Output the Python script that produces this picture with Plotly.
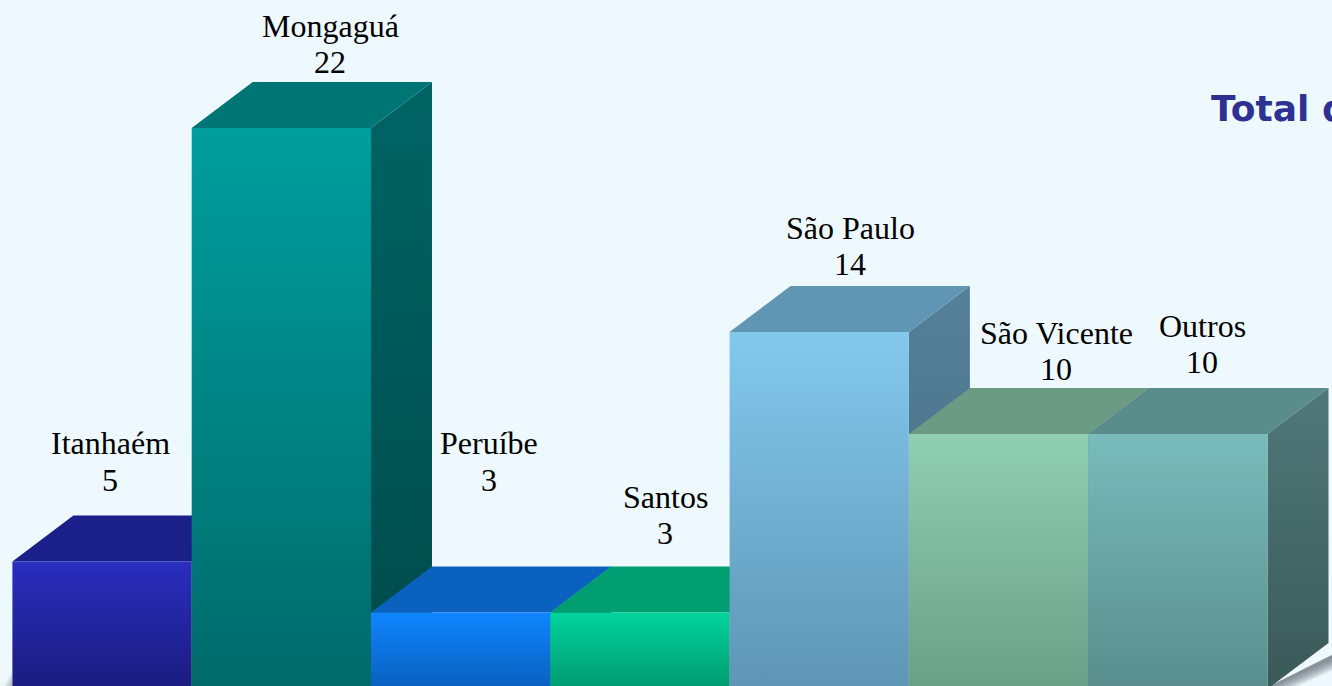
import plotly.graph_objects as go

# ---- data ----
cities = ["Itanhaém", "Mongaguá", "Peruíbe", "Santos", "São Paulo", "São Vicente", "Outros"]
values = [5, 22, 3, 3, 14, 10, 10]

# ---- colours: (top of gradient, bottom of gradient) ----
front_top = ["#2B2DBE", "#009E9E", "#0F85FF", "#00D49C", "#83C9EC", "#90CFB1", "#79BCBB"]
front_bot = ["#1A1C80", "#006A6A", "#0A5FBE", "#009A70", "#5F95B5", "#6A9F88", "#598D8D"]
roof = ["#1A1F8A", "#007575", "#0A62BE", "#009E70", "#6095B3", "#6B9B85", "#5A8C8C"]
side_top = ["#14186C", "#006464", "#084E98", "#007E5A", "#55809A", "#587F6E", "#4F7878"]
side_bot = ["#10135A", "#004A4A", "#063E78", "#006448", "#45697F", "#46655A", "#3A5959"]

# ---- geometry constants (pixels in a 1332x686 page) ----
W, H = 1332, 686
LEFT_PX, BAR_PX = 12.4, 179.3
UNIT_PX, BASE_PX = 25.5, 689.0
DEPTH_X_PX, DEPTH_Y_PX = 61.0, 46.0
DX, DY = DEPTH_X_PX / BAR_PX, DEPTH_Y_PX / UNIT_PX
FONT = "Liberation Serif"
label_x_px = [110, 330, 488.5, 665, 850, 1056, 1202]
label_y_px = [443.5, 26.5, 443.5, 496.5, 227.5, 333, 325.5]
LINE_PX = 36

x_range = [-LEFT_PX / BAR_PX, (W - LEFT_PX) / BAR_PX]
y_range = [(BASE_PX - H) / UNIT_PX, BASE_PX / UNIT_PX]

fig = go.Figure()


def poly(xs, ys, **kw):
    fig.add_trace(go.Scatter(x=xs + xs[:1], y=ys + ys[:1], mode="lines", fill="toself",
                             line=dict(width=0), hoverinfo="skip", showlegend=False, **kw))


def grad(c_bottom, c_top, lo, hi):
    return dict(type="vertical", start=lo, stop=hi, colorscale=[[0, c_bottom], [1, c_top]])


# soft ground shadows at the bottom corners
n = len(values)
px_y = 1 / UNIT_PX
px_x = 1 / BAR_PX
for k in range(1, 9):
    off = k * 1.6 * px_y
    poly([n - 0.02, n + DX + 0.2, n + DX + 0.2, n - 0.02],
         [-off, DY - off, DY + 4 * px_y, 0],
         fillcolor="rgba(70,80,90,0.11)")
    reach = k * 1.6 * px_x
    poly([-reach, 0, 0],
         [-0.2, -0.2, (3 + k * 1.9) * px_y],
         fillcolor="rgba(70,80,90,0.07)")

# bars, left to right so that each front hides its neighbour's side
for i, v in enumerate(values):
    x0, x1 = float(i), float(i + 1)
    poly([x1, x1 + DX, x1 + DX, x1], [0.0, DY, v + DY, float(v)],
         fillgradient=grad(side_bot[i], side_top[i], 0.0, v + DY))
    poly([x0, x0 + DX, x1 + DX, x1], [float(v), v + DY, v + DY, float(v)],
         fillcolor=roof[i])
    poly([x0, x1, x1, x0], [0.0, 0.0, float(v), float(v)],
         fillgradient=grad(front_bot[i], front_top[i], 0.0, float(v)))

# two-line labels: city name above, value below
ann = []
for i, (c, v) in enumerate(zip(cities, values)):
    for j, t in enumerate((c, str(v))):
        ann.append(dict(x=label_x_px[i] / W, y=1 - (label_y_px[i] + j * LINE_PX) / H,
                        xref="paper", yref="paper", text=t, showarrow=False,
                        xanchor="center", yanchor="middle",
                        font=dict(family=FONT, size=32, color="#000000")))
ann.append(dict(x=1209 / W, y=1 - 108.5 / H, xref="paper", yref="paper", text="<b>Total de</b>",
                showarrow=False, xanchor="left", yanchor="middle", align="left",
                font=dict(family="DejaVu Sans", size=36, color="#2E3192")))

fig.update_layout(
    width=W, height=H, margin=dict(l=0, r=0, t=0, b=0),
    paper_bgcolor="#EDF9FF", plot_bgcolor="#EDF9FF",
    xaxis=dict(range=x_range, visible=False, fixedrange=True),
    yaxis=dict(range=y_range, visible=False, fixedrange=True),
    annotations=ann, showlegend=False,
)
fig.write_html("out.html", config=dict(displayModeBar=False),
               post_script="document.body.style.margin='0';document.body.style.overflow='hidden';")
